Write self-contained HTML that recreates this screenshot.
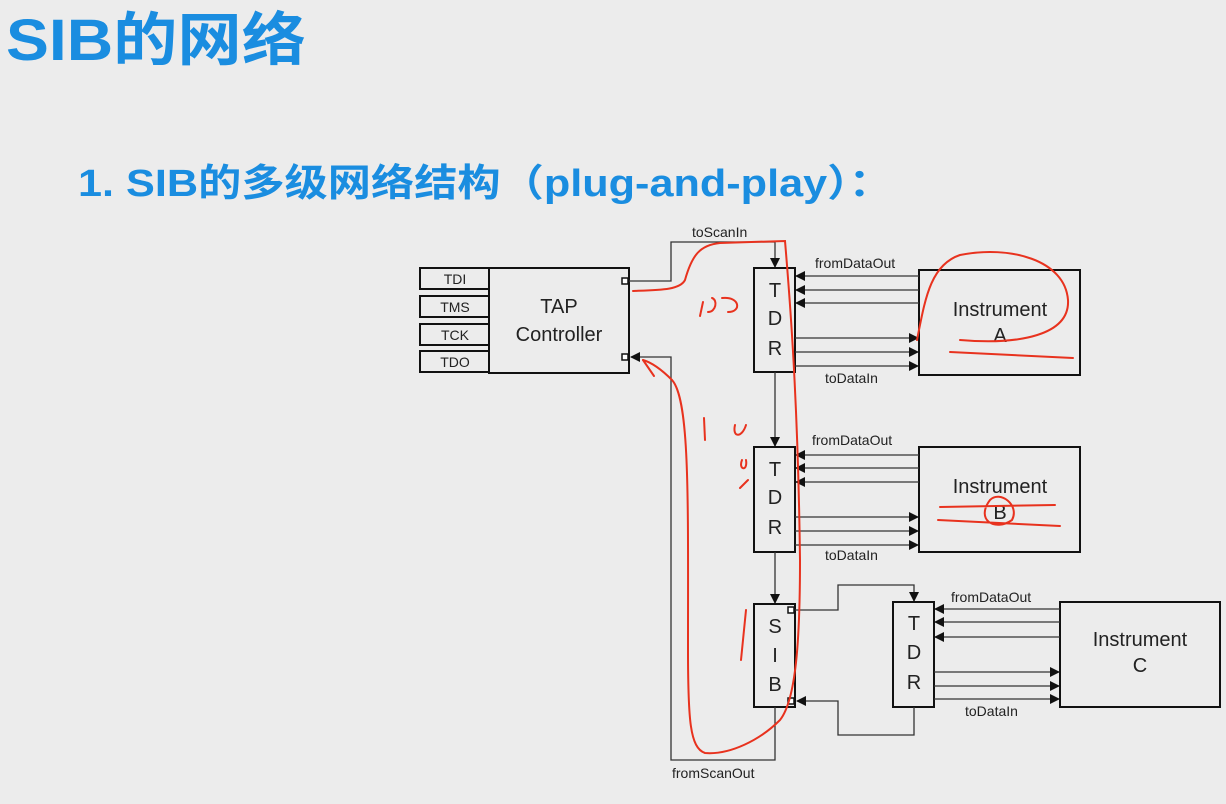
<!DOCTYPE html>
<html><head><meta charset="utf-8"><style>
html,body{margin:0;padding:0;background:#ececec;}
svg{display:block;}
</style></head><body>
<svg width="1226" height="804" viewBox="0 0 1226 804" xmlns="http://www.w3.org/2000/svg">
<defs>
<marker id="ar" markerWidth="10" markerHeight="10" refX="9" refY="5" orient="auto" markerUnits="userSpaceOnUse">
<path d="M0,0 L10,5 L0,10 z" fill="#111"/></marker>
</defs>
<rect width="1226" height="804" fill="#ececec"/>
<g font-family="'Liberation Sans','Noto Sans CJK SC',sans-serif" font-weight="bold" fill="#1a8de0">
<text x="6" y="60" font-size="58" textLength="300" lengthAdjust="spacingAndGlyphs">SIB的网络</text>
<text x="78" y="196" font-size="38" textLength="814" lengthAdjust="spacingAndGlyphs">1. SIB的多级网络结构（plug-and-play）：</text>
</g>
<g fill="none" stroke="#111" stroke-width="2">
<rect x="420" y="268" width="69" height="21"/><rect x="420" y="296" width="69" height="21"/>
<rect x="420" y="324" width="69" height="21"/><rect x="420" y="351" width="69" height="21"/>
<rect x="489" y="268" width="140" height="105"/>
<rect x="754" y="268" width="41" height="104"/>
<rect x="919" y="270" width="161" height="105"/>
<rect x="754" y="447" width="41" height="105"/>
<rect x="919" y="447" width="161" height="105"/>
<rect x="754" y="604" width="41" height="103"/>
<rect x="893" y="602" width="41" height="105"/>
<rect x="1060" y="602" width="160" height="105"/>
</g>
<g fill="#fff" stroke="#111" stroke-width="1.5">
<rect x="622" y="278" width="6" height="6"/><rect x="622" y="354" width="6" height="6"/>
<rect x="788" y="607" width="6" height="6"/><rect x="788" y="698" width="6" height="6"/>
</g>
<g fill="none" stroke="#333" stroke-width="1.3" marker-end="url(#ar)">
<polyline points="629,281 671,281 671,242 775,242 775,267"/>
<polyline points="775,707 775,760 671,760 671,357 631,357"/>
<line x1="775" y1="372" x2="775" y2="446"/>
<line x1="775" y1="552" x2="775" y2="603"/>
<polyline points="795,610 838,610 838,585 914,585 914,601"/>
<polyline points="914,707 914,735 838,735 838,701 797,701"/>
<line x1="919" y1="276" x2="796" y2="276"/><line x1="919" y1="290" x2="796" y2="290"/><line x1="919" y1="303" x2="796" y2="303"/>
<line x1="795" y1="338" x2="918" y2="338"/><line x1="795" y1="352" x2="918" y2="352"/><line x1="795" y1="366" x2="918" y2="366"/>
<line x1="919" y1="455" x2="796" y2="455"/><line x1="919" y1="468" x2="796" y2="468"/><line x1="919" y1="482" x2="796" y2="482"/>
<line x1="795" y1="517" x2="918" y2="517"/><line x1="795" y1="531" x2="918" y2="531"/><line x1="795" y1="545" x2="918" y2="545"/>
<line x1="1060" y1="609" x2="935" y2="609"/><line x1="1060" y1="622" x2="935" y2="622"/><line x1="1060" y1="637" x2="935" y2="637"/>
<line x1="934" y1="672" x2="1059" y2="672"/><line x1="934" y1="686" x2="1059" y2="686"/><line x1="934" y1="699" x2="1059" y2="699"/>
</g>
<g font-family="'Liberation Sans',sans-serif" fill="#222">
<g font-size="14" text-anchor="middle">
<text x="455" y="284">TDI</text><text x="455" y="312">TMS</text><text x="455" y="340">TCK</text><text x="455" y="367">TDO</text>
</g>
<g font-size="20" text-anchor="middle">
<text x="559" y="313">TAP</text><text x="559" y="341">Controller</text>
<text x="775" y="297">T</text><text x="775" y="325">D</text><text x="775" y="355">R</text>
<text x="775" y="476">T</text><text x="775" y="504">D</text><text x="775" y="534">R</text>
<text x="775" y="633">S</text><text x="775" y="662">I</text><text x="775" y="691">B</text>
<text x="914" y="630">T</text><text x="914" y="659">D</text><text x="914" y="689">R</text>
<text x="1000" y="316">Instrument</text><text x="1000" y="342">A</text>
<text x="1000" y="493">Instrument</text><text x="1000" y="519">B</text>
<text x="1140" y="646">Instrument</text><text x="1140" y="672">C</text>
</g>
<g font-size="14">
<text x="692" y="237">toScanIn</text>
<text x="815" y="268">fromDataOut</text><text x="825" y="383">toDataIn</text>
<text x="812" y="445">fromDataOut</text><text x="825" y="560">toDataIn</text>
<text x="951" y="602">fromDataOut</text><text x="965" y="716">toDataIn</text>
<text x="672" y="778">fromScanOut</text>
</g>
</g>
<g fill="none" stroke="#e8321e" stroke-width="2" stroke-linecap="round">
<path d="M633,291 C660,290 680,290 685,280 C692,255 700,245 720,243 L785,241 C790,300 798,400 800,560 C800,640 796,700 780,720 C760,740 730,755 705,753 C690,748 688,720 688,650 C688,500 690,400 672,380 C660,368 650,362 643,360"/>
<path d="M643,360 L654,376"/>
<path d="M917,340 C925,300 930,265 960,255 C1010,245 1065,260 1068,300 C1070,335 1020,345 960,340"/>
<path d="M950,352 L1073,358"/>
<path d="M940,507 L1055,505 M938,520 L1060,526 M990,500 C1000,490 1020,505 1012,520 C995,532 975,520 990,500"/>
<path d="M703,302 L700,316 M712,298 C718,300 716,312 708,312 M722,298 C740,296 742,312 728,312"/>
<path d="M704,418 L705,440 M735,425 C732,438 742,438 746,425"/>
<path d="M742,460 C738,470 748,472 746,460 M740,488 L748,480 M746,610 L741,660"/>
</g>
</svg>
</body></html>
